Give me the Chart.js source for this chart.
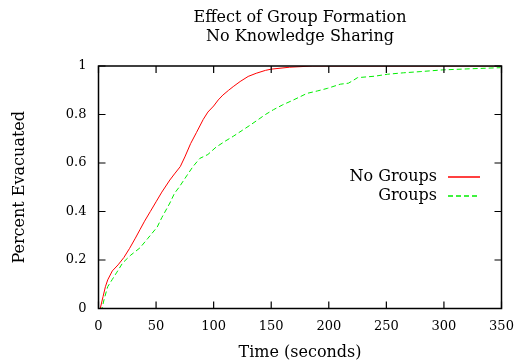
<!DOCTYPE html>
<html>
<head>
<meta charset="utf-8">
<script src="https://cdn.jsdelivr.net/npm/chart.js@4.4.1/dist/chart.umd.min.js"></script>
<style>
  html, body { margin: 0; padding: 0; background: #fff; }
  #wrap { width: 518px; height: 362px; }
</style>
</head>
<body>
<div id="wrap"><canvas id="evacChart"></canvas></div>
<script>
// Data
const noGroupsTime = [0, 1.5, 4, 6, 8, 12, 17, 22, 27, 32, 36, 40, 45, 50, 55, 62, 66, 71, 75, 80, 85, 91, 95, 100, 104, 108, 113, 117, 123, 130, 137, 145, 150, 166, 186, 350];
const noGroupsPct  = [0, 0, 0.05, 0.09, 0.118, 0.155, 0.18, 0.21, 0.248, 0.29, 0.325, 0.36, 0.40, 0.44, 0.48, 0.53, 0.555, 0.585, 0.625, 0.68, 0.725, 0.78, 0.81, 0.835, 0.86, 0.88, 0.9, 0.915, 0.936, 0.957, 0.97, 0.982, 0.987, 0.995, 1.0, 1.0];

const groupsTime = [0, 3, 5, 8, 12, 16, 21, 28, 36, 43, 51, 55, 62, 66, 70, 77, 82, 88, 95, 102, 110, 117, 125, 132, 139, 145, 152, 160, 168, 175, 181, 190, 199, 210, 217, 221, 225, 240, 251, 265, 280, 299, 320, 349];
const groupsPct  = [0, 0, 0.04, 0.09, 0.12, 0.15, 0.188, 0.22, 0.25, 0.29, 0.336, 0.375, 0.435, 0.475, 0.5, 0.55, 0.585, 0.619, 0.635, 0.665, 0.69, 0.71, 0.735, 0.757, 0.78, 0.8, 0.82, 0.84, 0.857, 0.873, 0.887, 0.897, 0.908, 0.925, 0.929, 0.94, 0.952, 0.958, 0.966, 0.972, 0.977, 0.984, 0.988, 0.993];

const xTicks = [0, 50, 100, 150, 200, 250, 300, 350];
const yTicks = [0, 0.2, 0.4, 0.6, 0.8, 1];

const titleLines = ['Effect of Group Formation', 'No Knowledge Sharing'];
const seriesNames = ['No Groups', 'Groups'];
const seriesColors = ['#ff0000', '#00ee00'];
const seriesDash = [[], [5, 3]];

const FONT = '"DejaVu Serif", "Liberation Serif", serif';

function toPoints(xs, ys) {
    return xs.map((x, i) => ({ x: x, y: ys[i] }));
}

// gnuplot style frame, inward ticks, titles and legend
const gnuplotDecor = {
    id: 'gnuplotDecor',
    afterDatasetsDraw(chart) {
        const { ctx, chartArea: a, scales } = chart;
        ctx.save();
        ctx.strokeStyle = '#000';
        ctx.lineWidth = 1.2;
        ctx.beginPath();
        xTicks.forEach(v => {
            const px = scales.x.getPixelForValue(v);
            ctx.moveTo(px, a.bottom); ctx.lineTo(px, a.bottom - 7);
            ctx.moveTo(px, a.top); ctx.lineTo(px, a.top + 7);
        });
        yTicks.forEach(v => {
            const py = scales.y.getPixelForValue(v);
            ctx.moveTo(a.left, py); ctx.lineTo(a.left + 7, py);
            ctx.moveTo(a.right, py); ctx.lineTo(a.right - 7, py);
        });
        ctx.stroke();
        ctx.lineWidth = 1.5;
        ctx.strokeRect(a.left, a.top, a.right - a.left, a.bottom - a.top);

        // titles
        ctx.fillStyle = '#000';
        ctx.textAlign = 'center';
        ctx.textBaseline = 'middle';
        ctx.font = '16px ' + FONT;
        const cx = (a.left + a.right) / 2;
        ctx.fillText(titleLines[0], cx, 18);
        ctx.fillText(titleLines[1], cx, 37);
        ctx.fillText('Time (seconds)', cx, 353);
        ctx.save();
        ctx.translate(20, (a.top + a.bottom) / 2);
        ctx.rotate(-Math.PI / 2);
        ctx.fillText('Percent Evacuated', 0, 0);
        ctx.restore();

        // legend: text on the left, line sample on the right
        ctx.textAlign = 'right';
        seriesNames.forEach((name, i) => {
            const y = 177 + i * 19;
            ctx.fillStyle = '#000';
            ctx.fillText(name, 437, y);
            ctx.strokeStyle = seriesColors[i];
            ctx.lineWidth = 1.5;
            ctx.setLineDash(seriesDash[i]);
            ctx.beginPath();
            ctx.moveTo(448, y); ctx.lineTo(480, y);
            ctx.stroke();
        });
        ctx.restore();
    }
};

const ctx = document.getElementById('evacChart').getContext('2d');
const evacChart = new Chart(ctx, {
    type: 'scatter',
    data: {
        datasets: [{
            label: seriesNames[0],
            data: toPoints(noGroupsTime, noGroupsPct),
            borderColor: seriesColors[0],
            borderWidth: 1,
            borderDash: seriesDash[0],
            showLine: true,
            pointRadius: 0,
            tension: 0
        }, {
            label: seriesNames[1],
            data: toPoints(groupsTime, groupsPct),
            borderColor: seriesColors[1],
            borderWidth: 1,
            borderDash: seriesDash[1],
            showLine: true,
            pointRadius: 0,
            tension: 0
        }]
    },
    options: {
        responsive: true,
        maintainAspectRatio: false,
        animation: false,
        layout: { padding: { top: 66, right: 16.5, left: 0, bottom: 0 } },
        plugins: {
            legend: { display: false },
            title: { display: false },
            tooltip: { enabled: false }
        },
        scales: {
            x: {
                type: 'linear',
                min: 0,
                max: 350,
                afterBuildTicks: s => { s.ticks = xTicks.map(v => ({ value: v })); },
                afterFit: s => { s.height = 53.5; s.paddingLeft = 0; s.paddingRight = 0; },
                grid: { display: false, drawTicks: false },
                border: { display: false },
                ticks: {
                    padding: 10,
                    color: '#000',
                    font: { family: FONT, size: 13 },
                    maxRotation: 0
                }
            },
            y: {
                min: 0,
                max: 1,
                afterBuildTicks: s => { s.ticks = yTicks.map(v => ({ value: v })); },
                afterFit: s => { s.width = 98.5; s.paddingTop = 0; s.paddingBottom = 0; },
                grid: { display: false, drawTicks: false },
                border: { display: false },
                ticks: {
                    padding: 12,
                    color: '#000',
                    font: { family: FONT, size: 13 },
                    callback: v => String(Math.round(v * 10) / 10)
                }
            }
        }
    },
    plugins: [gnuplotDecor]
});
</script>
</body>
</html>
